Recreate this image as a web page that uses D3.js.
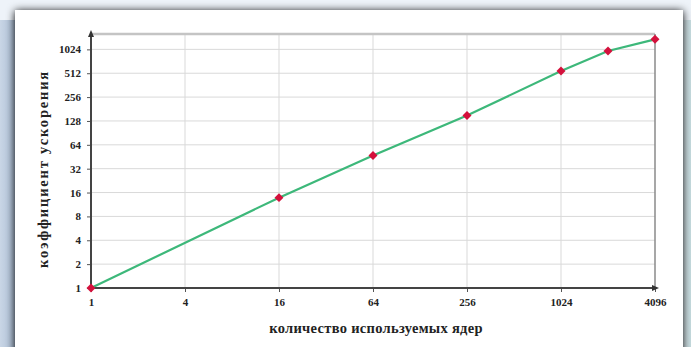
<!DOCTYPE html>
<html>
<head>
<meta charset="utf-8">
<script src="https://cdn.jsdelivr.net/npm/d3@7"></script>
<style>
  html, body { margin: 0; padding: 0; background: #eef3f9; }
  svg { display: block; }
  text { font-family: "Liberation Serif", "DejaVu Serif", serif; fill: #222; }
</style>
</head>
<body>
<svg id="chart" width="691" height="347"></svg>
<script>
// cores used vs speedup
var cores   = [1, 16, 64, 256, 1024, 2048, 4096];
var speedup = [1, 13.8, 47, 150, 545, 975, 1370];

var xTicks = [1, 4, 16, 64, 256, 1024, 4096];
var yTicks = [1, 2, 4, 8, 16, 32, 64, 128, 256, 512, 1024];

var xTitle = "количество используемых ядер";
var yTitle = "коэффициент ускорения";

var svg = d3.select("#chart");
var W = 691, H = 347;

// background: soft blue page with a white card on it
var defs = svg.append("defs");
var lg = defs.append("linearGradient").attr("id", "leftEdge")
    .attr("x1", 0).attr("x2", 1).attr("y1", 0).attr("y2", 0);
lg.append("stop").attr("offset", 0).attr("stop-color", "#c9d6e6");
lg.append("stop").attr("offset", 1).attr("stop-color", "#a9bbd2");
var rg = defs.append("linearGradient").attr("id", "rightEdge")
    .attr("x1", 0).attr("x2", 1).attr("y1", 0).attr("y2", 0);
rg.append("stop").attr("offset", 0).attr("stop-color", "#dde9ee");
rg.append("stop").attr("offset", 1).attr("stop-color", "#c6dde0");
var sh = defs.append("filter").attr("id", "shadow")
    .attr("x", "-5%").attr("y", "-5%").attr("width", "110%").attr("height", "110%");
sh.append("feGaussianBlur").attr("in", "SourceAlpha").attr("stdDeviation", 4);
sh.append("feOffset").attr("dx", 0).attr("dy", 1).attr("result", "b");
var fm = sh.append("feMerge");
fm.append("feMergeNode").attr("in", "b");
fm.append("feMergeNode").attr("in", "SourceGraphic");

svg.append("rect").attr("width", W).attr("height", H).attr("fill", "#eef3f9");
svg.append("rect").attr("x", 0).attr("y", 20).attr("width", 16).attr("height", H - 20)
    .attr("fill", "url(#leftEdge)");
svg.append("rect").attr("x", 682).attr("y", 20).attr("width", 9).attr("height", H - 20)
    .attr("fill", "url(#rightEdge)");
svg.append("rect").attr("x", 15).attr("y", 10).attr("width", 668).attr("height", 345)
    .attr("fill", "#fff").attr("filter", "url(#shadow)");

var x = d3.scaleLog().base(2).domain([1, 4096]).range([91, 655]);
var y = d3.scaleLog().base(2).domain([1, 1600]).range([288, 34]);

var x0 = x.range()[0], x1 = x.range()[1];
var y0 = y.range()[0], y1 = y.range()[1];

var g = svg.append("g");

// grid
g.selectAll("line.hgrid").data(yTicks).enter().append("line")
    .attr("class", "hgrid")
    .attr("x1", x0).attr("x2", x1)
    .attr("y1", function(d) { return y(d); }).attr("y2", function(d) { return y(d); })
    .attr("stroke", "#d9d9d9").attr("stroke-width", 1);
g.selectAll("line.vgrid").data(xTicks.slice(1, -1)).enter().append("line")
    .attr("class", "vgrid")
    .attr("x1", function(d) { return x(d); }).attr("x2", function(d) { return x(d); })
    .attr("y1", y0).attr("y2", y1)
    .attr("stroke", "#d9d9d9").attr("stroke-width", 1);

// frame: top and right
g.append("line").attr("x1", x0).attr("x2", x1).attr("y1", y1).attr("y2", y1)
    .attr("stroke", "#c4c4c4").attr("stroke-width", 2.5);
g.append("line").attr("x1", x1).attr("x2", x1).attr("y1", y1).attr("y2", y0)
    .attr("stroke", "#8a8a8a").attr("stroke-width", 1.5);

// axes
var xAxis = d3.axisBottom(x).tickValues(xTicks).tickSize(4).tickPadding(6)
    .tickFormat(d3.format("d"));
var yAxis = d3.axisLeft(y).tickValues(yTicks).tickSize(4).tickPadding(6)
    .tickFormat(d3.format("d"));

var gx = g.append("g").attr("transform", "translate(0," + y0 + ")").call(xAxis);
var gy = g.append("g").attr("transform", "translate(" + x0 + ",0)").call(yAxis);
[gx, gy].forEach(function(a) {
    a.select(".domain").remove();
    a.selectAll(".tick line").attr("stroke", "#555");
    a.selectAll(".tick text")
        .style("font-family", "'Liberation Serif', serif")
        .style("font-size", "11px").style("font-weight", "bold").attr("fill", "#333");
});

// axis lines with arrow heads
g.append("line").attr("x1", x0).attr("x2", x1).attr("y1", y0).attr("y2", y0)
    .attr("stroke", "#444").attr("stroke-width", 2);
g.append("line").attr("x1", x0).attr("x2", x0).attr("y1", y0).attr("y2", y1)
    .attr("stroke", "#444").attr("stroke-width", 2);
g.append("path")
    .attr("d", "M" + (x1 + 4) + "," + y0 + "l-7,-3l0,6z").attr("fill", "#333");
g.append("path")
    .attr("d", "M" + x0 + "," + (y1 - 4) + "l-3,7l6,0z").attr("fill", "#333");

// series
var pts = cores.map(function(c, i) { return [c, speedup[i]]; });
var line = d3.line().x(function(d) { return x(d[0]); }).y(function(d) { return y(d[1]); });
g.append("path").datum(pts).attr("d", line)
    .attr("fill", "none").attr("stroke", "#3db87a").attr("stroke-width", 2.2);

g.selectAll("path.mark").data(pts).enter().append("path")
    .attr("class", "mark")
    .attr("d", d3.symbol().type(d3.symbolSquare).size(40))
    .attr("transform", function(d) {
        return "translate(" + x(d[0]) + "," + y(d[1]) + ") rotate(45)";
    })
    .attr("fill", "#d4113c");

// titles
svg.append("text")
    .attr("x", 376).attr("y", 333)
    .attr("text-anchor", "middle")
    .style("font-size", "14.5px").style("font-weight", "bold")
    .style("letter-spacing", "0.3px")
    .text(xTitle);
svg.append("text")
    .attr("transform", "translate(48,169) rotate(-90)")
    .attr("text-anchor", "middle")
    .style("font-size", "14.5px").style("font-weight", "bold")
    .style("letter-spacing", "1.8px")
    .text(yTitle);
</script>
</body>
</html>
